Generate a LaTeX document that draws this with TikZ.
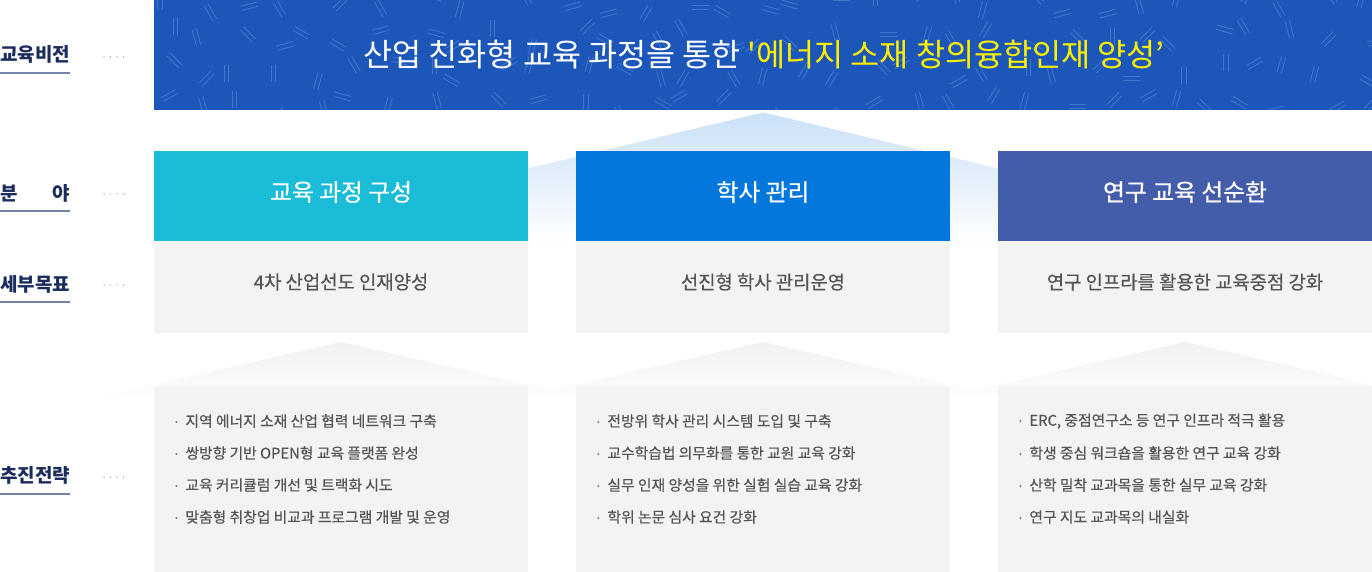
\documentclass[tikz,border=0pt]{standalone}
\usepackage{fontspec}
\setmainfont{Noto Sans CJK KR}
\newfontfamily\krmed{Noto Sans CJK KR}[FakeBold=0.5]
\newfontfamily\dotfont{Liberation Sans}
\definecolor{banner}{RGB}{28,86,185}
\definecolor{patcol}{RGB}{62,118,206}
\definecolor{vyellow}{RGB}{255,240,0}
\definecolor{hcyan}{RGB}{26,188,215}
\definecolor{hblue}{RGB}{4,119,220}
\definecolor{hindigo}{RGB}{67,93,170}
\definecolor{boxgray}{RGB}{243,243,243}
\definecolor{txtgray}{RGB}{85,85,85}
\definecolor{labcol}{RGB}{27,45,92}
\definecolor{ulcol}{RGB}{115,132,163}
\definecolor{dotcol}{RGB}{160,166,176}
\definecolor{triblue}{RGB}{203,225,247}
\definecolor{trigray}{RGB}{241,241,241}
\newcommand{\bdot}{{\dotfont ·}\hspace{6.3pt}}
\begin{document}
\begin{tikzpicture}[x=1pt,y=-1pt,
  lab/.style={anchor=west,inner sep=0pt,font=\fontsize{19}{22}\selectfont\bfseries,text=labcol},
  uline/.style={draw=ulcol,line width=2pt},
  dotmark/.style={fill=dotcol,draw=none},
  headbox/.style={anchor=north west,inner sep=0pt,minimum width=374pt,minimum height=90pt,draw=none},
  headtxt/.style={inner sep=0pt,font=\krmed\fontsize{23.8}{28}\selectfont,text=white},
  subbox/.style={anchor=north west,inner sep=0pt,minimum width=374pt,minimum height=92pt,fill=boxgray},
  subtxt/.style={inner sep=0pt,font=\krmed\fontsize{18.8}{22}\selectfont,text=txtgray},
  lowbox/.style={anchor=north west,inner sep=0pt,minimum width=374pt,minimum height=186pt,fill=boxgray},
  bul/.style={anchor=west,inner sep=0pt,font=\krmed\fontsize{14.8}{17}\selectfont,text=txtgray},
  pat/.style={draw=patcol,line width=0.9pt}
]
\useasboundingbox (0,0) rectangle (1372,572);
\fill[white] (0,0) rectangle (1372,572);

% banner
\node[anchor=north west,inner sep=0pt,minimum width=1218pt,minimum height=110pt,fill=banner] (ban) at (154,0) {};
\begin{scope}
\clip (154,0) rectangle (1372,110);
\pgfmathsetseed{12}
\foreach \i in {0,...,32}{
  \foreach \j in {0,...,3}{
    \pgfmathsetmacro{\cx}{150+\i*37.5+rnd*28}
    \pgfmathsetmacro{\cy}{-8+\j*34+rnd*22}
    \pgfmathsetmacro{\ang}{random(0,11)*15}
    \draw[pat,shift={(\cx,\cy)},rotate=\ang] (-8.5,-2.2)--(8.5,-2.2) (-8.5,2.2)--(8.5,2.2);
  }}
\end{scope}
\node[inner sep=0pt,font=\fontsize{31.6}{34}\selectfont,text=white] (vis) at (764,55) {산업 친화형 교육 과정을 통한 \textcolor{vyellow}{\textquotesingle 에너지 소재 창의융합인재 양성’}};

% background triangles (stacked slices give a soft gradient)
\foreach \k in {0,...,42}{
  \pgfmathsetmacro{\ya}{112.5+3*\k}
  \pgfmathsetmacro{\yb}{\ya+3.6}
  \pgfmathsetmacro{\wa}{(\ya-112.5)*4.2}
  \pgfmathsetmacro{\wb}{(\yb-112.5)*4.2}
  \pgfmathsetmacro{\pc}{100-\k*2.3}
  \fill[triblue!\pc!white] (763-\wa,\ya) -- (763+\wa,\ya) -- (763+\wb,\yb) -- (763-\wb,\yb) -- cycle;
}
\foreach \c in {341,763,1185}{
  \foreach \k in {0,...,17}{
    \pgfmathsetmacro{\ya}{342+3*\k}
    \pgfmathsetmacro{\yb}{\ya+3.6}
    \pgfmathsetmacro{\wa}{(\ya-342)*4.37}
    \pgfmathsetmacro{\wb}{(\yb-342)*4.37}
    \pgfmathsetmacro{\pc}{100-\k*5}
    \fill[trigray!\pc!white] (\c-\wa,\ya) -- (\c+\wa,\ya) -- (\c+\wb,\yb) -- (\c-\wb,\yb) -- cycle;
  }}

% left labels
\node[lab] (l1) at (0,54) {교육비전};
\node[lab] (l2) at (0,193) {\makebox[70pt][s]{분\hfill 야}};
\node[lab] (l3) at (0,284) {세부목표};
\node[lab] (l4) at (0,475) {추진전략};
\draw[uline] (0,73) -- (70,73);
\draw[uline] (0,211) -- (70,211);
\draw[uline] (0,302) -- (70,302);
\draw[uline] (0,494) -- (70,494);
\foreach \yy in {57,194,285,477}{
  \foreach \xx in {104,110.5,117,123.5}{
    \fill[dotmark] (\xx,\yy) circle (0.75pt);
  }}

% header boxes
\node[headbox,fill=hcyan] (h1) at (154,151) {};
\node[headbox,fill=hblue] (h2) at (576,151) {};
\node[headbox,fill=hindigo] (h3) at (998,151) {};
\node[headtxt] (h1t) at (341,192) {교육 과정 구성};
\node[headtxt] (h2t) at (763,192) {학사 관리};
\node[headtxt] (h3t) at (1185,192) {연구 교육 선순환};

% sub goal boxes
\node[subbox] (s1) at (154,241) {};
\node[subbox] (s2) at (576,241) {};
\node[subbox] (s3) at (998,241) {};
\node[subtxt] (s1t) at (341,282) {4차 산업선도 인재양성};
\node[subtxt] (s2t) at (763,282) {선진형 학사 관리운영};
\node[subtxt] (s3t) at (1185,282) {연구 인프라를 활용한 교육중점 강화};

% strategy boxes
\node[lowbox] (b1) at (154,386) {};
\node[lowbox] (b2) at (576,386) {};
\node[lowbox] (b3) at (998,386) {};

\node[bul] (a1) at (174,421) {\bdot 지역 에너지 소재 산업 협력 네트워크 구축};
\node[bul] (a2) at (174,453) {\bdot 쌍방향 기반 OPEN형 교육 플랫폼 완성};
\node[bul] (a3) at (174,485) {\bdot 교육 커리큘럼 개선 및 트랙화 시도};
\node[bul] (a4) at (174,517) {\bdot 맞춤형 취창업 비교과 프로그램 개발 및 운영};

\node[bul] (c1) at (596,421) {\bdot 전방위 학사 관리 시스템 도입 및 구축};
\node[bul] (c2) at (596,453) {\bdot 교수학습법 의무화를 통한 교원 교육 강화};
\node[bul] (c3) at (596,485) {\bdot 실무 인재 양성을 위한 실험 실습 교육 강화};
\node[bul] (c4) at (596,517) {\bdot 학위 논문 심사 요건 강화};

\node[bul] (d1) at (1018,421) {\bdot ERC, 중점연구소 등 연구 인프라 적극 활용};
\node[bul] (d2) at (1018,453) {\bdot 학생 중심 워크숍을 활용한 연구 교육 강화};
\node[bul] (d3) at (1018,485) {\bdot 산학 밀착 교과목을 통한 실무 교육 강화};
\node[bul] (d4) at (1018,517) {\bdot 연구 지도 교과목의 내실화};
\end{tikzpicture}
\end{document}
